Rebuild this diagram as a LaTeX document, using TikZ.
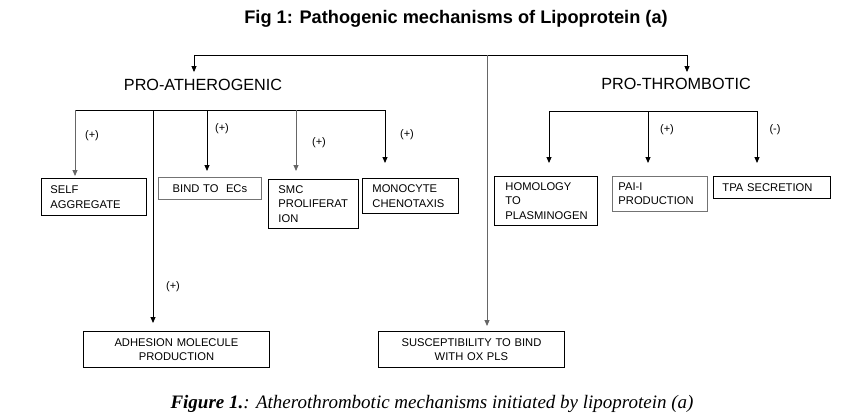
\documentclass[tikz,border=0pt]{standalone}
\usepackage{fontspec}
\setmainfont{Liberation Sans}
\newfontfamily\capfont{Liberation Serif}
\usetikzlibrary{arrows.meta}
\begin{document}
\begin{tikzpicture}[x=1pt,y=-1pt,
  bx/.style={draw, line width=0.9pt, anchor=north west, inner xsep=9pt, inner ysep=0pt, align=left, font=\fontsize{11.2}{14.5}\selectfont},
  cbx/.style={bx, align=center},
  gbx/.style={draw=black!55},
  ln/.style={line width=0.9pt},
  arr/.style={ln, -{Triangle[length=6pt,width=5pt]}},
  lbl/.style={font=\fontsize{11}{12}\selectfont, inner sep=0pt},
  head/.style={font=\fontsize{16.2}{18}\selectfont, inner sep=0pt}]
\useasboundingbox (0,0) rectangle (865,420);
% titles
\node[font=\bfseries\fontsize{18.2}{20}\selectfont, inner sep=0pt] (title) at (456,19) {Fig 1: Pathogenic mechanisms of Lipoprotein (a)};
\node[head] (proath) at (203,85) {PRO-ATHEROGENIC};
\node[head] (prothr) at (676,84) {PRO-THROMBOTIC};
% boxes
\node[bx, text width=87pt, minimum height=37pt] (self) at (41,178) {SELF\\AGGREGATE};
\node[cbx, gbx, inner xsep=4pt, text width=95pt, minimum height=22pt] (bind) at (158,177) {BIND TO\ \ ECs};
\node[bx, inner xsep=10pt, text width=70pt, minimum height=49pt] (smc) at (268,179) {SMC\\PROLIFERAT\\ION};
\node[bx, inner xsep=10pt, text width=76pt, minimum height=35pt] (mono) at (362,178) {MONOCYTE\\CHENOTAXIS};
\node[cbx, inner xsep=4pt, text width=178pt, minimum height=36pt] (adh) at (83,331) {ADHESION MOLECULE\\PRODUCTION};
\node[cbx, inner xsep=4pt, text width=178pt, minimum height=36pt] (susc) at (378,331) {SUSCEPTIBILITY TO BIND\\WITH OX PLS};
\node[bx, inner xsep=11pt, text width=81pt, minimum height=49pt] (homo) at (494,176) {HOMOLOGY\\TO\\PLASMINOGEN};
\node[bx, gbx, inner xsep=6pt, text width=83pt, minimum height=35pt] (pai) at (612,176) {PAI-I\\PRODUCTION};
\node[bx, inner xsep=9pt, text width=99pt, minimum height=22pt] (tpa) at (713,176) {TPA SECRETION};
% top level
\coordinate (tl) at (194,55);
\coordinate (tm) at (487,55);
\coordinate (tr) at (687,55);
\draw[ln] (tl) -- (tr);
\draw[arr, shorten >=7pt] (tl) -- (tl |- proath.north);
\draw[arr, shorten >=6pt] (tr) -- (tr |- prothr.north);
\draw[arr, draw=black!60, shorten >=5pt] (tm) -- (tm |- susc.north);
% pro-atherogenic level
\coordinate (la) at (75,110);
\coordinate (lb) at (153,110);
\coordinate (lc) at (207,110);
\coordinate (ld) at (296,110);
\coordinate (le) at (385,110);
\draw[ln] (la) -- (le);
\draw[arr, draw=black!60, shorten >=2pt] (la) -- (la |- self.north);
\draw[arr, shorten >=8pt] (lb) -- (lb |- adh.north);
\draw[arr, shorten >=6pt] (lc) -- (lc |- bind.north);
\draw[arr, draw=black!60, shorten >=8pt] (ld) -- (ld |- smc.north);
\draw[arr, shorten >=15pt] (le) -- (le |- mono.north);
% pro-thrombotic level
\coordinate (ra) at (549,111);
\coordinate (rb) at (648,111);
\coordinate (rc) at (757,111);
\draw[ln] (ra) -- (rc);
\draw[arr, shorten >=13pt] (ra) -- (ra |- homo.north);
\draw[arr, shorten >=13pt] (rb) -- (rb |- pai.north);
\draw[arr, shorten >=13pt] (rc) -- (rc |- tpa.north);
% labels
\node[lbl] (l1) at (92,136) {(+)};
\node[lbl] (l2) at (222,129) {(+)};
\node[lbl] (l3) at (319,143) {(+)};
\node[lbl] (l4) at (407,135) {(+)};
\node[lbl] (l5) at (173,287) {(+)};
\node[lbl] (l6) at (667,130) {(+)};
\node[lbl] (l7) at (775,130) {(-)};
% caption
\node[font=\capfont\itshape\fontsize{19}{22}\selectfont, inner sep=0pt] (cap) at (432,404) {\textbf{Figure 1.}: Atherothrombotic mechanisms initiated by lipoprotein (a)};
\end{tikzpicture}
\end{document}
